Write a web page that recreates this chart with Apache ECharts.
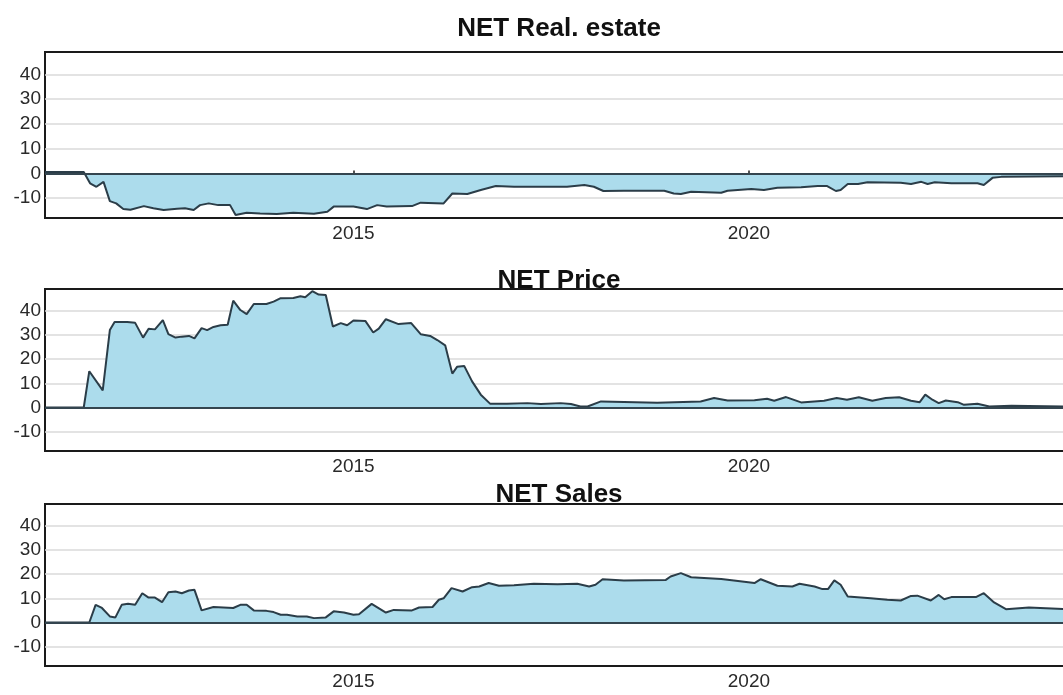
<!DOCTYPE html>
<html>
<head>
<meta charset="utf-8">
<script src="https://cdn.jsdelivr.net/npm/echarts@6.0.0/dist/echarts.min.js"></script>
<style>
  html, body { margin: 0; padding: 0; background: #fff; overflow: hidden; }
  #container { width: 1063px; height: 695px; }
</style>
</head>
<body>
<div id="container"></div>
<script>
var panelTitles = ['NET Real. estate', 'NET Price', 'NET Sales'];
var xTickYears = [2015, 2020];
var yTickValues = [-10, 0, 10, 20, 30, 40];

// NET Real. estate
var realYears = [2011.1, 2011.59, 2011.67, 2011.75, 2011.84, 2011.92, 2012.0, 2012.09, 2012.18, 2012.35,
  2012.47, 2012.6, 2012.77, 2012.87, 2012.98, 2013.06, 2013.17, 2013.29, 2013.44, 2013.51,
  2013.65, 2013.82, 2014.03, 2014.24, 2014.5, 2014.67, 2014.75, 2015.0, 2015.17, 2015.3,
  2015.42, 2015.74, 2015.85, 2016.14, 2016.25, 2016.44, 2016.61, 2016.8, 2017.03, 2017.37,
  2017.7, 2017.92, 2018.04, 2018.16, 2018.42, 2018.93, 2019.05, 2019.14, 2019.27, 2019.65,
  2019.73, 2020.03, 2020.19, 2020.36, 2020.66, 2020.87, 2020.99, 2021.1, 2021.16, 2021.25,
  2021.38, 2021.5, 2021.92, 2022.05, 2022.18, 2022.26, 2022.35, 2022.56, 2022.89, 2022.97,
  2023.08, 2023.19, 2024.0];
var realValues = [0.6, 0.6, -4.0, -5.4, -3.4, -11.2, -12.1, -14.4, -14.7, -13.2,
  -14.1, -14.8, -14.3, -14.1, -14.8, -12.8, -12.1, -12.8, -12.8, -16.8,
  -15.9, -16.2, -16.4, -15.9, -16.3, -15.5, -13.4, -13.4, -14.4, -12.8,
  -13.4, -13.2, -11.8, -12.1, -8.1, -8.3, -6.7, -5.1, -5.4, -5.4,
  -5.4, -4.7, -5.4, -7.1, -7.0, -7.0, -8.1, -8.3, -7.4, -7.8,
  -7.0, -6.3, -6.7, -5.8, -5.6, -5.1, -5.1, -7.1, -6.7, -4.3,
  -4.3, -3.6, -3.8, -4.3, -3.4, -4.3, -3.6, -4.0, -4.0, -4.7,
  -1.8, -1.4, -1.1];

// NET Price
var priceYears = [2011.1, 2011.59, 2011.66, 2011.83, 2011.92, 2011.98, 2012.14, 2012.24, 2012.34, 2012.41,
  2012.49, 2012.59, 2012.66, 2012.75, 2012.83, 2012.92, 2012.99, 2013.08, 2013.15, 2013.23,
  2013.32, 2013.41, 2013.48, 2013.57, 2013.65, 2013.74, 2013.9, 2013.99, 2014.08, 2014.24,
  2014.33, 2014.39, 2014.48, 2014.56, 2014.65, 2014.74, 2014.84, 2014.92, 2015.0, 2015.15,
  2015.25, 2015.32, 2015.41, 2015.57, 2015.73, 2015.85, 2015.97, 2016.06, 2016.16, 2016.25,
  2016.31, 2016.4, 2016.5, 2016.61, 2016.73, 2016.94, 2017.2, 2017.37, 2017.62, 2017.75,
  2017.87, 2017.96, 2018.13, 2018.42, 2018.84, 2019.39, 2019.56, 2019.73, 2020.07, 2020.23,
  2020.32, 2020.47, 2020.66, 2020.95, 2021.11, 2021.24, 2021.39, 2021.56, 2021.73, 2021.9,
  2022.05, 2022.16, 2022.23, 2022.32, 2022.4, 2022.49, 2022.64, 2022.72, 2022.89, 2023.04,
  2023.32, 2024.0];
var priceValues = [0, 0, 15.0, 7.1, 32.0, 35.4, 35.4, 35.0, 28.9, 32.6,
  32.3, 36.1, 30.3, 28.9, 29.3, 29.6, 28.6, 32.8, 32.0, 33.3,
  34.0, 34.2, 44.2, 40.3, 38.6, 42.8, 42.8, 43.8, 45.2, 45.3,
  46.0, 45.6, 48.1, 46.7, 46.5, 33.5, 34.9, 34.0, 36.0, 35.8,
  31.0, 32.6, 36.5, 34.5, 34.9, 30.3, 29.6, 27.9, 25.7, 14.0,
  16.8, 17.2, 10.8, 5.3, 1.5, 1.5, 1.8, 1.4, 1.8, 1.4,
  0.4, 0.4, 2.5, 2.3, 2.0, 2.5, 3.9, 2.9, 3.0, 3.6,
  2.8, 4.3, 2.1, 2.8, 3.9, 3.2, 4.2, 2.8, 3.9, 4.2,
  2.8, 2.2, 5.3, 3.2, 1.8, 2.9, 2.2, 1.1, 1.5, 0.4,
  0.7, 0.4];

// NET Sales
var salesYears = [2011.1, 2011.66, 2011.74, 2011.82, 2011.92, 2011.99, 2012.07, 2012.15, 2012.24, 2012.33,
  2012.41, 2012.49, 2012.58, 2012.66, 2012.75, 2012.83, 2012.92, 2012.99, 2013.08, 2013.23,
  2013.48, 2013.57, 2013.65, 2013.74, 2013.9, 2013.99, 2014.08, 2014.16, 2014.29, 2014.41,
  2014.5, 2014.65, 2014.75, 2014.88, 2015.0, 2015.07, 2015.23, 2015.41, 2015.51, 2015.74,
  2015.83, 2016.0, 2016.08, 2016.14, 2016.24, 2016.38, 2016.5, 2016.59, 2016.71, 2016.84,
  2017.03, 2017.28, 2017.58, 2017.83, 2017.98, 2018.06, 2018.15, 2018.42, 2018.95, 2019.01,
  2019.14, 2019.27, 2019.65, 2019.81, 2020.07, 2020.15, 2020.36, 2020.55, 2020.64, 2020.83,
  2020.93, 2021.0, 2021.08, 2021.16, 2021.25, 2021.54, 2021.75, 2021.92, 2022.05, 2022.13,
  2022.3, 2022.4, 2022.47, 2022.56, 2022.87, 2022.97, 2023.1, 2023.25, 2023.54, 2024.0];
var salesValues = [0, 0, 7.3, 6.0, 2.5, 2.1, 7.3, 7.7, 7.3, 12.1,
  10.3, 10.3, 8.4, 12.5, 12.8, 12.1, 13.2, 13.5, 5.0, 6.4,
  6.0, 7.3, 7.3, 5.0, 4.8, 4.3, 3.2, 3.2, 2.5, 2.5,
  1.8, 2.1, 4.6, 4.1, 3.2, 3.4, 7.7, 4.1, 5.2, 5.0,
  6.2, 6.4, 9.4, 10.0, 14.2, 12.8, 14.6, 14.9, 16.3, 15.2,
  15.4, 16.0, 15.8, 16.0, 14.9, 15.6, 17.9, 17.4, 17.6, 19.0,
  20.4, 18.7, 18.0, 17.4, 16.3, 17.9, 15.2, 14.9, 16.0, 14.9,
  13.8, 13.8, 17.4, 15.6, 10.7, 10.0, 9.4, 9.1, 11.0, 11.1,
  9.1, 11.4, 9.6, 10.5, 10.5, 12.1, 8.3, 5.5, 6.2, 5.5];

var dom = document.getElementById('container');
var myChart = echarts.init(dom);

var allYears = [realYears, priceYears, salesYears];
var allValues = [realValues, priceValues, salesValues];
var gridTops = [52, 289, 504];
var gridHeights = [166, 162, 162];
var titleTops = [11, 263, 477];

function zip(xs, ys) {
  var out = [];
  for (var i = 0; i < xs.length; i++) out.push([xs[i], ys[i]]);
  return out;
}

var option = {
  backgroundColor: '#fff',
  animation: false,
  title: [], grid: [], xAxis: [], yAxis: [], series: []
};

for (var i = 0; i < 3; i++) {
  option.title.push({
    text: panelTitles[i],
    left: 554, top: titleTops[i], textAlign: 'center',
    textStyle: { fontFamily: 'Liberation Sans', fontSize: 26, fontWeight: 'bold', color: '#111' }
  });
  // plot box runs past the right edge of the picture, as in the original
  option.grid.push({
    left: 45, width: 1025, top: gridTops[i], height: gridHeights[i],
    outerBoundsMode: 'none', containLabel: false,
    show: true, borderColor: '#1a1a1a', borderWidth: 2, backgroundColor: 'transparent'
  });
  option.xAxis.push({
    type: 'value', gridIndex: i, min: 2011.1, max: 2024.06,
    axisLine: { show: false },
    splitLine: { show: false },
    axisTick: { show: true, inside: true, length: 3, customValues: xTickYears, lineStyle: { color: '#1a1a1a', width: 1.5 } },
    axisLabel: {
      customValues: xTickYears, formatter: function (v) { return String(Math.round(v)); },
      fontFamily: 'Liberation Sans', fontSize: 19, color: '#2a2a2a', margin: 6
    }
  });
  option.yAxis.push({
    type: 'value', gridIndex: i, min: -18, max: 49, splitNumber: 6,
    axisLine: { show: false },
    axisTick: { show: false },
    splitLine: { show: true, showMinLine: false, showMaxLine: false, lineStyle: { color: '#dadada', width: 1.5 } },
    axisLabel: {
      customValues: yTickValues,
      fontFamily: 'Liberation Sans', fontSize: 19, color: '#2a2a2a', margin: 4
    }
  });
  option.series.push({
    type: 'line', xAxisIndex: i, yAxisIndex: i,
    data: zip(allYears[i], allValues[i]),
    symbol: 'none',
    lineStyle: { color: '#2b3d48', width: 2 },
    areaStyle: { color: '#acdcec', opacity: 1, origin: 0 },
    markLine: {
      silent: true, symbol: 'none', label: { show: false },
      lineStyle: { color: '#34454f', width: 2, type: 'solid' },
      data: [{ yAxis: 0 }]
    }
  });
}

myChart.setOption(option, true);
</script>
</body>
</html>
